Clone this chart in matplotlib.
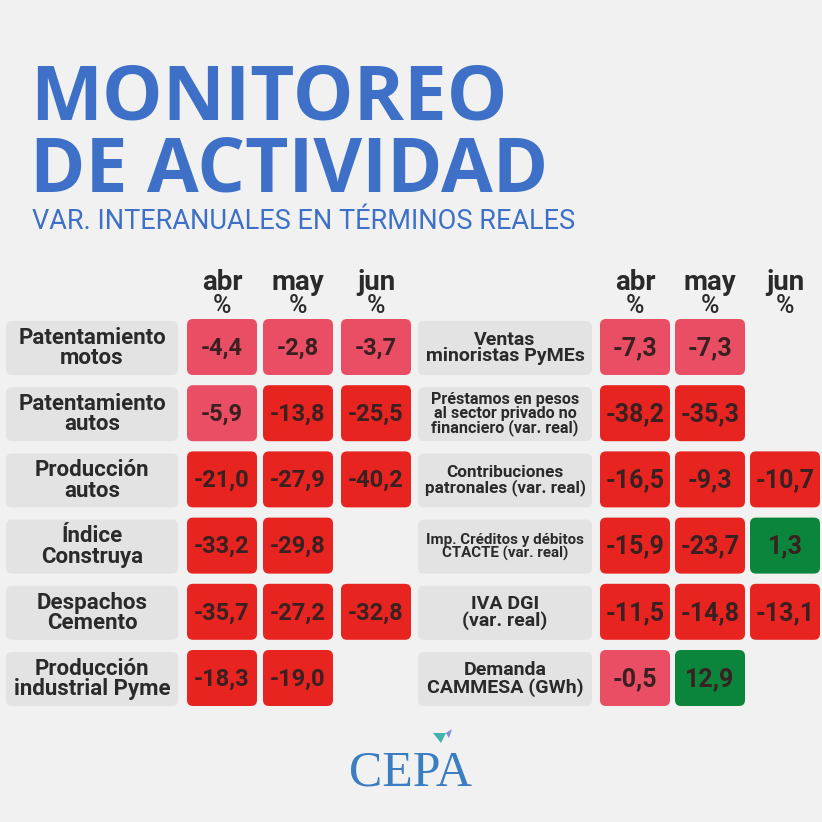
import matplotlib.pyplot as plt
from matplotlib.patches import FancyBboxPatch, Polygon

# data
months = ["abr", "may", "jun"]

left_labels = ["Patentamiento\nmotos", "Patentamiento\nautos", "Producción\nautos",
               "Índice\nConstruya", "Despachos\nCemento", "Producción\nindustrial Pyme"]
left_values = [[-4.4, -2.8, -3.7],
               [-5.9, -13.8, -25.5],
               [-21.0, -27.9, -40.2],
               [-33.2, -29.8, None],
               [-35.7, -27.2, -32.8],
               [-18.3, -19.0, None]]

right_labels = ["Ventas\nminoristas PyMEs",
                "Préstamos en pesos\nal sector privado no\nfinanciero (var. real)",
                "Contribuciones\npatronales (var. real)",
                "Imp. Créditos y débitos\nCTACTE (var. real)",
                "IVA DGI\n(var. real)",
                "Demanda\nCAMMESA (GWh)"]
right_label_sizes = [14, 11.6, 12.3, 10.9, 14, 14]
right_values = [[-7.3, -7.3, None],
                [-38.2, -35.3, None],
                [-16.5, -9.3, -10.7],
                [-15.9, -23.7, 1.3],
                [-11.5, -14.8, -13.1],
                [-0.5, 12.9, None]]

BG = "#F1F1F1"
BLUE = "#3D70C6"
PINK = "#E94E65"
RED = "#E82421"
GREEN = "#0C853C"
LABEL_BG = "#E3E3E3"
TXT = "#2A2A2A"
CELL_TXT = "#3A2020"
FONT = "Roboto"


def cell_color(v):
    if v > 0:
        return GREEN
    if v > -8:
        return PINK
    return RED


def fmt(v):
    return f"{v:.1f}".replace(".", ",")


fig = plt.figure(figsize=(8.22, 8.22), dpi=100, facecolor=BG)
ax = fig.add_axes([0, 0, 1, 1])
ax.set_xlim(0, 822)
ax.set_ylim(822, 0)
ax.axis("off")
ax.set_facecolor(BG)

# title block
ax.text(30, 119, "MONITOREO", fontsize=55, fontweight="bold", color=BLUE,
        family="Open Sans", va="baseline", ha="left")
ax.text(30, 191, "DE ACTIVIDAD", fontsize=54, fontweight="bold", color=BLUE,
        family="Open Sans", va="baseline", ha="left")
ax.text(32, 229, "VAR. INTERANUALES EN TÉRMINOS REALES", fontsize=19.5,
        color=BLUE, family=FONT, va="baseline", ha="left")

row_top = [319 + i * 66.2 for i in range(6)]
row_h = 56
cell_w = 70


def draw_table(labels, values, label_x, label_w, col_x, label_sizes, val_size):
    for j, m in enumerate(months):
        cx = col_x[j] + cell_w / 2
        ax.text(cx, 290, m, fontsize=20, fontweight="bold", color=TXT,
                family=FONT, ha="center", va="baseline")
        ax.text(cx, 313, "%", fontsize=18, color=TXT, family=FONT,
                fontweight="medium", ha="center", va="baseline")
    for i, (lab, vals) in enumerate(zip(labels, values)):
        y = row_top[i]
        ax.add_patch(FancyBboxPatch((label_x, y + 2), label_w, row_h - 2,
                                    boxstyle="round,pad=0,rounding_size=6",
                                    fc=LABEL_BG, ec="none"))
        ax.text(label_x + label_w / 2, y + row_h / 2 + 1, lab,
                fontsize=label_sizes[i], fontweight="bold", color=TXT,
                family=FONT, ha="center", va="center", linespacing=0.9)
        for j, v in enumerate(vals):
            if v is None:
                continue
            ax.add_patch(FancyBboxPatch((col_x[j], y), cell_w, row_h,
                                        boxstyle="round,pad=0,rounding_size=6",
                                        fc=cell_color(v), ec="none"))
            ax.text(col_x[j] + cell_w / 2, y + row_h / 2 + 1, fmt(v),
                    fontsize=val_size, fontweight="bold", color=CELL_TXT,
                    family=FONT, ha="center", va="center")


draw_table(left_labels, left_values, 6, 172, [187, 263, 341],
           [16] * 6, 17)
draw_table(right_labels, right_values, 418, 174, [600, 675, 750],
           right_label_sizes, 18)

# logo
ax.text(410, 785, "CEPA", fontsize=36, color="#3A7DC0",
        family="Liberation Serif", ha="center", va="baseline")
ax.add_patch(Polygon([[433, 733], [446, 733], [441, 743]], closed=True,
                     fc="#3FB3B0", ec="none"))
ax.add_patch(Polygon([[446, 733], [452, 729], [449, 738]], closed=True,
                     fc="#7A8FD0", ec="none"))

fig.savefig("out.png", dpi=100, facecolor=BG)
